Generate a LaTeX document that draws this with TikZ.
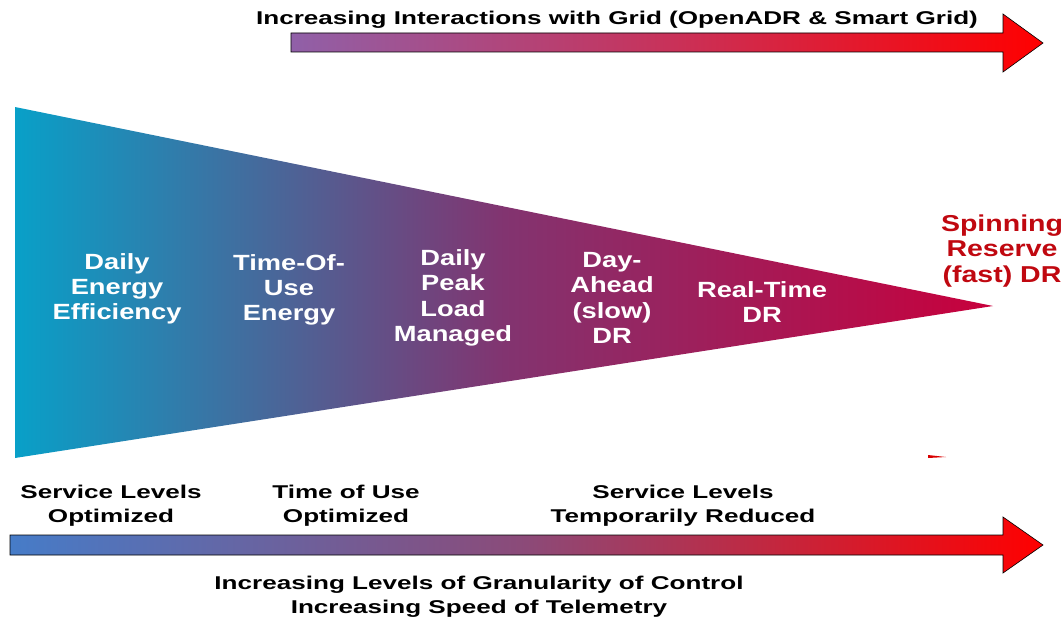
\documentclass[tikz,border=0pt]{standalone}
\usepackage{fontspec}
\setmainfont{Liberation Sans}[FakeStretch=1.24]
\newfontfamily\wideface{Liberation Sans}[FakeStretch=1.41]
\usepackage{xcolor}
\definecolor{gridpurple}{RGB}{144,96,168}
\definecolor{ctrlblue}{RGB}{70,124,200}
\definecolor{fanteal}{RGB}{8,160,200}
\definecolor{fanmid}{RGB}{130,52,112}
\definecolor{fancrimson}{RGB}{200,0,60}
\definecolor{spinred}{RGB}{192,8,16}

\begin{document}
\begin{tikzpicture}[x=1pt,y=-1pt,line join=miter,
  lbl/.style={text=white,font=\bfseries\fontsize{22}{25.3}\selectfont,align=center},
  captext/.style={font=\wideface\bfseries\fontsize{18.5}{24}\selectfont,align=center}]
\useasboundingbox (0,0) rectangle (1063,618);
% top arrow
\shade[left color=gridpurple,right color=red,middle color={rgb,255:red,200;green,50;blue,90},draw=black,line width=0.6pt]
  (291,33) -- (1003,33) -- (1003,14) -- (1043,43) -- (1003,72) -- (1003,52) -- (291,52) -- cycle;
\node[captext] (grid) at (617,20) {Increasing Interactions with Grid (OpenADR \& Smart Grid)};
% fan
\shade[left color=fanteal,right color=fancrimson,middle color=fanmid]
  (15,107) -- (993,306) -- (15,458) -- cycle;
\fill[red!85!black] (928,455) -- (946,457) -- (928,458) -- cycle;
\node[lbl] (eff) at (117,289) {Daily\\Energy\\Efficiency};
\node[lbl] (tou) at (289,290) {Time-Of-\\Use\\Energy};
\node[lbl] (peak) at (453,298) {Daily\\Peak\\Load\\Managed};
\node[lbl] (dayahead) at (612,298) {Day-\\Ahead\\(slow)\\DR};
\node[lbl] (rt) at (762,302) {Real-Time\\DR};
\node[lbl,text=spinred,font=\bfseries\fontsize{23}{25.5}\selectfont] (spin) at (1002,251) {Spinning\\Reserve\\(fast) DR};
% bottom arrow
\node[captext] (svcopt) at (111,506) {Service Levels\\Optimized};
\node[captext] (touopt) at (346,506) {Time of Use\\Optimized};
\node[captext] (svcred) at (683,506) {Service Levels\\Temporarily Reduced};
\shade[left color=ctrlblue,right color=red,middle color={rgb,255:red,140;green,74;blue,120},draw=black,line width=0.6pt]
  (10,535) -- (1003,535) -- (1003,517) -- (1043,545) -- (1003,573) -- (1003,555) -- (10,555) -- cycle;
\node[captext] (ctrl) at (479,597) {Increasing Levels of Granularity of Control\\Increasing Speed of Telemetry};
\end{tikzpicture}
\end{document}
